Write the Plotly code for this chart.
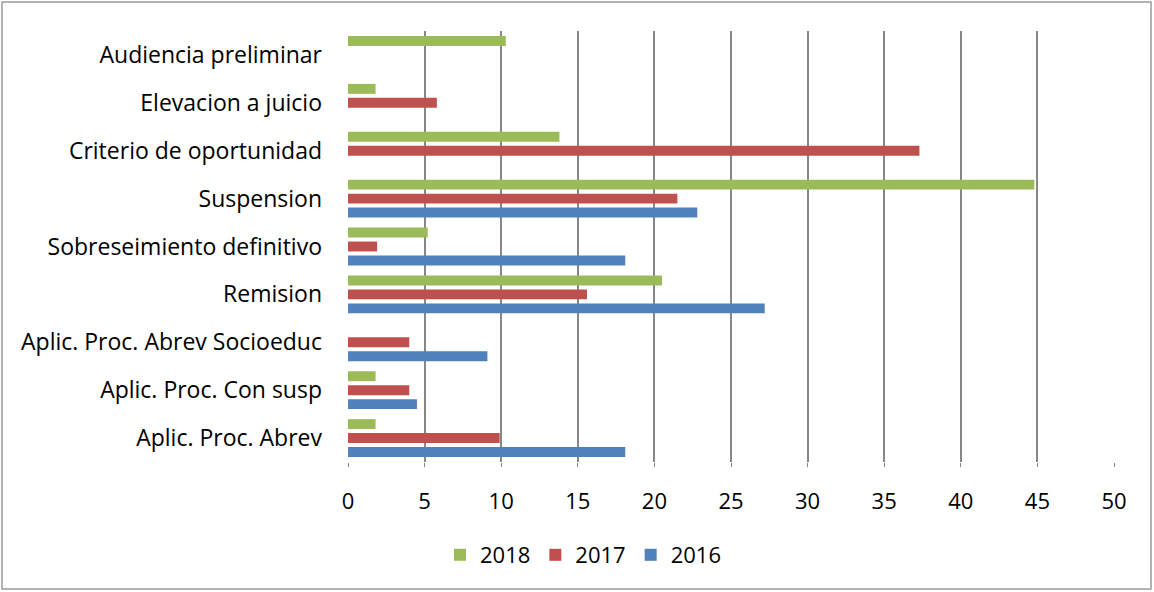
import plotly.graph_objects as go

categorias = ['Aplic. Proc. Abrev', 'Aplic. Proc. Con susp', 'Aplic. Proc. Abrev Socioeduc',
              'Remision', 'Sobreseimiento definitivo', 'Suspension',
              'Criterio de oportunidad', 'Elevacion a juicio', 'Audiencia preliminar']

v2016 = [18.1, 4.5, 9.1, 27.2, 18.1, 22.8, None, None, None]
v2017 = [9.9, 4.0, 4.0, 15.6, 1.9, 21.5, 37.3, 5.8, None]
v2018 = [1.8, 1.8, None, 20.5, 5.2, 44.8, 13.8, 1.8, 10.3]

series = [('2016', v2016, '#4F81BD'),
          ('2017', v2017, '#C0504D'),
          ('2018', v2018, '#9BBB59')]

fuente = 'Open Sans, Lato, sans-serif'

fig = go.Figure()
for nombre, valores, color in series:
    fig.add_trace(go.Bar(y=categorias, x=valores, name=nombre, orientation='h',
                         marker=dict(color=color, line=dict(width=0))))

# margenes calculados desde la imagen
L, R, T, B = 348, 40, 31, 130
W, H = 1154, 592
pw, ph = W - L - R, H - T - B

fig.update_layout(
    width=W, height=H,
    margin=dict(l=L, r=R, t=T, b=B),
    barmode='group', bargap=0.125, bargroupgap=0.29,
    plot_bgcolor='white', paper_bgcolor='white',
    font=dict(family=fuente, size=22, color='#000000'),
    legend=dict(orientation='h', x=(583 - L) / pw, xanchor='center',
                y=-(555 - (H - B)) / ph, yanchor='middle',
                traceorder='reversed', font=dict(size=22), itemwidth=30),
    showlegend=True,
)
fig.update_xaxes(range=[0, 50], dtick=5, showgrid=True, gridcolor='#878787', gridwidth=1.6,
                 zeroline=False, showline=False, ticks='outside', ticklen=4,
                 tickcolor='#878787', ticklabelstandoff=16)
fig.update_yaxes(showgrid=False, showline=False, ticks='', ticklabelstandoff=25,
                 tickfont=dict(size=23))

# borde exterior del grafico
fig.add_shape(type='rect', xref='paper', yref='paper', layer='above',
              x0=(2 - L) / pw, x1=(W - 3 - L) / pw,
              y0=-(H - 3 - (H - B)) / ph, y1=(H - B - 2) / ph,
              line=dict(color='#9a9a9a', width=1.5))

fig.write_html("out.html", config={'displayModeBar': False},
               post_script="document.body.style.margin='0';")
